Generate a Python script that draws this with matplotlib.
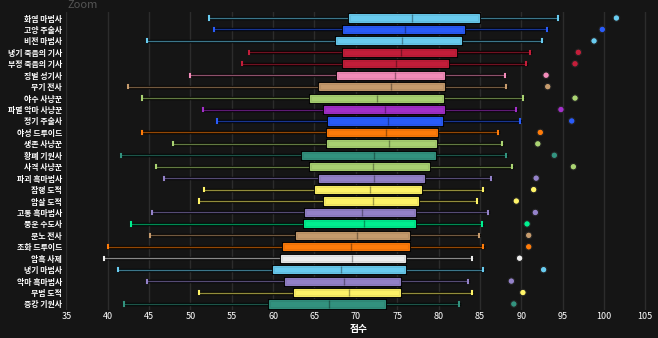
import matplotlib
matplotlib.use("Agg")
import matplotlib.pyplot as plt
import matplotlib.patheffects as pe

plt.rcParams['font.family'] = ['Noto Sans CJK KR', 'DejaVu Sans']

specs = ["화염 마법사", "고양 주술사", "비전 마법사", "냉기 죽음의 기사", "부정 죽음의 기사",
         "징벌 성기사", "무기 전사", "야수 사냥꾼", "파멸 악마 사냥꾼", "정기 주술사",
         "야성 드루이드", "생존 사냥꾼", "황폐 기원사", "사격 사냥꾼", "파괴 흑마법사",
         "잠행 도적", "암살 도적", "고통 흑마법사", "풍운 수도사", "분노 전사",
         "조화 드루이드", "암흑 사제", "냉기 마법사", "악마 흑마법사", "무법 도적",
         "증강 기원사"]
whislo = [52.3, 52.8, 44.7, 57.1, 56.2, 50.0, 42.5, 44.2, 51.5, 53.2,
          44.2, 47.9, 41.6, 45.8, 46.8, 51.6, 51.0, 45.4, 42.8, 45.1,
          40.0, 39.5, 41.3, 44.7, 51.1, 42.0]
q1 = [69.2, 68.4, 67.6, 68.4, 68.4, 67.7, 65.6, 64.5, 66.1, 66.6,
      66.5, 66.5, 63.5, 64.5, 65.5, 65.1, 66.2, 63.8, 63.7, 62.8,
      61.2, 61.0, 60.0, 61.4, 62.5, 59.5]
med = [76.8, 75.9, 75.6, 75.5, 74.8, 74.7, 74.3, 72.6, 73.5, 73.9,
       73.7, 74.0, 72.2, 72.1, 72.2, 71.7, 72.1, 70.8, 71.0, 70.1,
       69.4, 69.5, 68.2, 68.6, 69.2, 66.8]
q3 = [84.9, 83.1, 82.7, 82.1, 81.2, 80.6, 80.6, 80.5, 80.6, 80.4,
      79.8, 79.7, 79.6, 78.9, 78.2, 77.9, 77.5, 77.1, 77.1, 76.4,
      76.4, 75.9, 75.9, 75.4, 75.4, 73.5]
whishi = [94.4, 93.1, 92.5, 91.1, 90.6, 88.0, 88.2, 90.2, 89.4, 89.9,
          87.2, 87.7, 88.2, 88.9, 86.3, 85.4, 84.6, 86.0, 85.3, 84.9,
          85.4, 84.1, 85.4, 83.6, 84.0, 82.5]
top = [101.5, 99.8, 98.8, 96.9, 96.5, 93.0, 93.2, 96.5, 94.8, 96.1,
       92.3, 92.0, 94.0, 96.3, 91.8, 91.5, 89.4, 91.7, 90.7, 90.9,
       90.9, 89.8, 92.7, 88.8, 90.2, 89.1]
colors = ['#69CCF0', '#2A5CFA', '#69CCF0', '#C41E3A', '#C41E3A',
          '#F48CBA', '#C69B6D', '#AAD372', '#A330C9', '#2A5CFA',
          '#FF7C0A', '#AAD372', '#33937F', '#AAD372', '#9482C9',
          '#FFF468', '#FFF468', '#9482C9', '#00F090', '#C69B6D',
          '#FF7C0A', '#EEEEEE', '#69CCF0', '#9482C9', '#FFF468',
          '#33937F']
xticks = list(range(35, 106, 5))

bg = '#151515'
fig = plt.figure(figsize=(6.58, 3.38), dpi=100, facecolor=bg)
W, H = 658, 338
ax = fig.add_axes([66.3 / W, 1 - 309.7 / H, (70.7 * 8.272) / W, (309.7 - 12.3) / H])
ax.set_facecolor(bg)

n = len(specs)
pos = list(range(n))
stats = [dict(med=med[i], q1=q1[i], q3=q3[i], whislo=whislo[i], whishi=whishi[i], fliers=[])
         for i in range(n)]
res = ax.bxp(stats, positions=pos, vert=False, widths=0.62, patch_artist=True,
             showfliers=False, capwidths=0.28)
shadow = [pe.Stroke(linewidth=2.4, foreground='#000000'), pe.Normal()]
for i in range(n):
    c = colors[i]
    b = res['boxes'][i]
    b.set_facecolor(c)
    b.set_alpha(0.92)
    b.set_edgecolor(c)
    b.set_linewidth(0.8)
    b.set_path_effects([pe.Stroke(linewidth=2.2, foreground='#000000'), pe.Normal()])
    b.set_zorder(3)
    m = res['medians'][i]
    m.set_color('#000000')
    m.set_alpha(0.35)
    m.set_linewidth(1.0)
    m.set_zorder(4)
    for w in res['whiskers'][2 * i:2 * i + 2]:
        w.set_color(c)
        w.set_alpha(0.58)
        w.set_linewidth(1.0)
        w.set_path_effects(shadow)
    for cp in res['caps'][2 * i:2 * i + 2]:
        cp.set_color(c)
        cp.set_linewidth(1.5)

ax.scatter(top, pos, s=22, c=colors, edgecolors='#222222', linewidths=0.8, zorder=5)

ax.set_xlim(35, 105.7)
ax.set_ylim(n - 0.5, -0.5)
ax.set_xticks(xticks)
ax.set_xticklabels([str(t) for t in xticks], color='#ffffff', fontsize=6.5)
ax.set_yticks(pos)
ax.set_yticklabels(specs, color='#ffffff', fontsize=5.7, fontweight='bold')
ax.tick_params(axis='both', length=0, pad=3)
ax.tick_params(axis='x', pad=2)
ax.grid(axis='x', color='#2c2c2c', linewidth=1.0, zorder=0)
ax.set_axisbelow(True)
for s in ax.spines.values():
    s.set_visible(False)
ax.set_xlabel('점수', color='#ffffff', fontsize=7, fontweight='bold', labelpad=2)

fig.text(67 / W, 1 - 7.5 / H, 'Zoom', color='#555555', fontsize=8, va='baseline', ha='left')

fig.savefig('out.png', dpi=100, facecolor=bg)
